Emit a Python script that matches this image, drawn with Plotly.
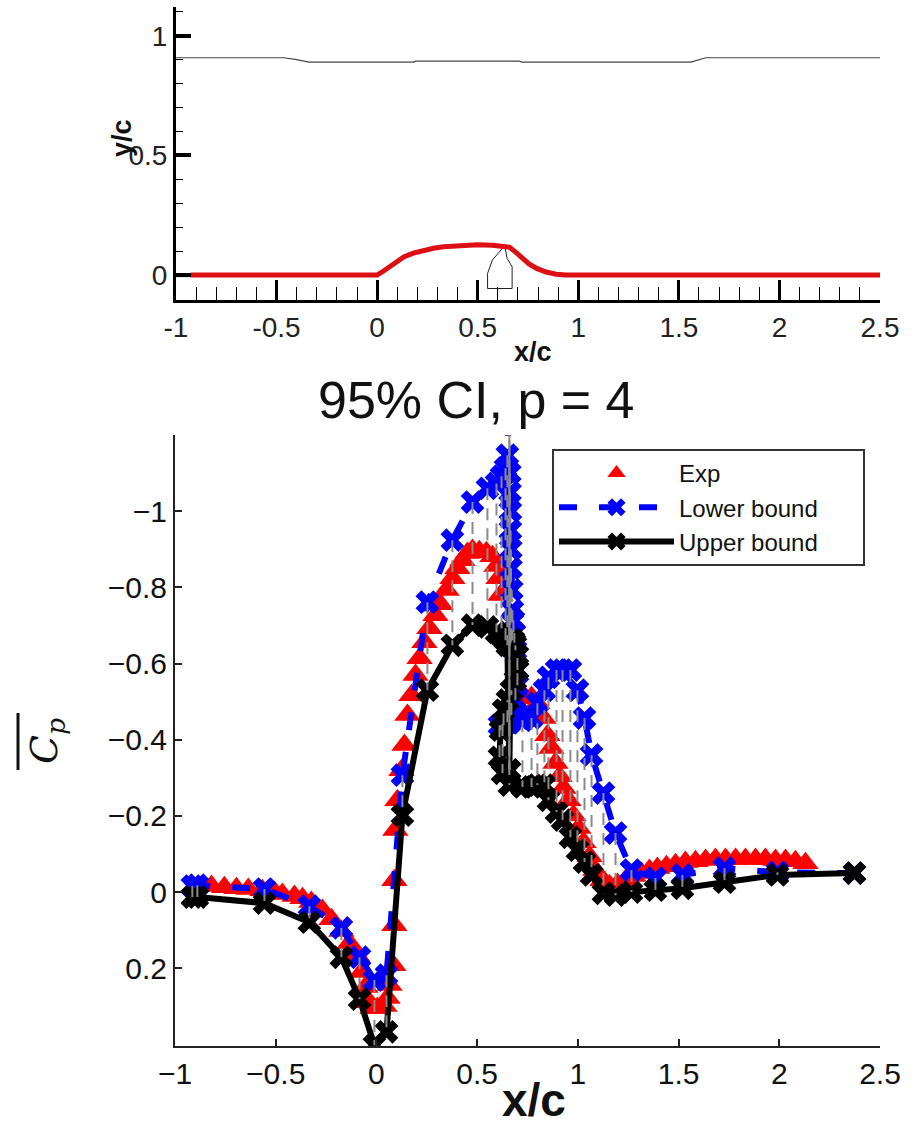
import plotly.graph_objects as go

W, H = 916, 1126
NARROW = "Liberation Sans Narrow, Liberation Sans, Arial"
SANS = "Liberation Sans, Arial"

# ---- upper panel: geometry
wall_x = [-1, -0.927, 0.0, 0.03, 0.06, 0.095, 0.134, 0.18, 0.232, 0.28, 0.33, 0.38, 0.427, 0.5, 0.573, 0.62, 0.659, 0.69, 0.72, 0.755, 0.793, 0.84, 0.89, 0.94, 2.5]
wall_y = [0, 0, 0, 0.016, 0.035, 0.056, 0.077, 0.092, 0.104, 0.112, 0.118, 0.122, 0.125, 0.127, 0.125, 0.122, 0.116, 0.095, 0.07, 0.047, 0.028, 0.013, 0.004, 0, 0]
inlet_x = [-1, -0.927]
inlet_y = [0, 0]
top_x = [-1, -0.463, -0.4, -0.34, 0.183, 0.19, 0.707, 0.72, 1.56, 1.634, 2.5]
top_y = [0.908, 0.908, 0.9, 0.89, 0.89, 0.894, 0.894, 0.89, 0.89, 0.908, 0.908]
cavity_x = [0.549, 0.549, 0.573, 0.622, 0.637, 0.646, 0.671, 0.671, 0.549]
cavity_y = [-0.056, 0.007, 0.063, 0.111, 0.111, 0.07, 0.035, -0.056, -0.056]

# ---- lower panel: pressure coefficient
exp_x = [-0.819, -0.755, -0.695, -0.636, -0.566, -0.506, -0.467, -0.407, -0.367, -0.323, -0.268, -0.223, -0.174,
         -0.134, -0.094, -0.074, -0.055, -0.035, -0.020, 0.005, 0.040, 0.055, 0.065, 0.084, 0.089, 0.089, 0.094,
         0.104, 0.124, 0.139, 0.154, 0.174, 0.194, 0.214, 0.238, 0.263, 0.293, 0.318, 0.348, 0.377, 0.402, 0.427,
         0.452, 0.477, 0.511, 0.546, 0.576, 0.596, 0.606, 0.616, 0.626, 0.660, 0.710, 0.740, 0.770, 0.799, 0.829,
         0.849, 0.869, 0.889, 0.909, 0.928, 0.953, 0.978, 1.003, 1.028, 1.058, 1.087, 1.122, 1.157, 1.197, 1.236,
         1.276, 1.316, 1.355, 1.395, 1.440, 1.485, 1.534, 1.584, 1.634, 1.683, 1.733, 1.783, 1.832, 1.882, 1.931,
         1.981, 2.031, 2.080, 2.130]
exp_y = [-0.016, -0.013, -0.010, -0.008, -0.005, 0.0, 0.005, 0.010, 0.016, 0.026, 0.047, 0.071, 0.102,
         0.134, 0.168, 0.210, 0.249, 0.289, 0.304, 0.304, 0.299, 0.278, 0.244, 0.192, 0.087, -0.031, -0.163,
         -0.241, -0.320, -0.386, -0.465, -0.517, -0.570, -0.614, -0.656, -0.693, -0.727, -0.756, -0.793, -0.824, -0.850, -0.871,
         -0.890, -0.898, -0.895, -0.892, -0.882, -0.856, -0.824, -0.780, -0.451, -0.465, -0.483, -0.509, -0.512, -0.496, -0.457,
         -0.412, -0.378, -0.339, -0.304, -0.273, -0.241, -0.202, -0.168, -0.131, -0.094, -0.058, -0.031, -0.018, -0.021, -0.031,
         -0.042, -0.050, -0.058, -0.063, -0.068, -0.073, -0.079, -0.081, -0.084, -0.087, -0.087, -0.087, -0.087, -0.087, -0.087,
         -0.084, -0.084, -0.081, -0.076]

bound_x = [-0.914, -0.889, -0.556, -0.333, -0.174, -0.084, -0.010, 0.050, 0.129, 0.253, 0.377, 0.477, 0.551,
           0.596, 0.621, 0.641, 0.650, 0.660, 0.660, 0.660, 0.662, 0.663, 0.665, 0.665, 0.667, 0.668, 0.672, 0.675, 0.680, 0.685, 0.690, 0.700, 0.700, 0.690, 0.670, 0.650, 0.631, 0.616,
           0.611, 0.626, 0.660, 0.725, 0.770, 0.799, 0.834, 0.854, 0.894, 0.924, 0.963, 0.998, 1.033, 1.068, 1.127,
           1.187, 1.266, 1.385, 1.519, 1.728, 1.991, 2.373]
upper_y = [0.013, 0.013, 0.029, 0.079, 0.171, 0.281, 0.402, 0.367, -0.202, -0.530, -0.648, -0.701, -0.696,
           -0.682, -0.672, -0.661, -0.648, -0.320, -0.320, -0.320, -0.648, -0.650, -0.652, -0.655, -0.658, -0.660, -0.661, -0.661, -0.661, -0.655, -0.648, -0.622, -0.583, -0.556, -0.530, -0.504, -0.478, -0.425,
           -0.354, -0.312, -0.281, -0.276, -0.276, -0.281, -0.281, -0.241, -0.210, -0.189, -0.144, -0.110, -0.079, -0.045, 0.003,
           0.008, 0.0, -0.005, -0.010, -0.026, -0.045, -0.050]
lower_y = [-0.016, -0.018, -0.008, 0.037, 0.094, 0.171, 0.231, 0.218, -0.307, -0.761, -0.924, -1.024, -1.060,
           -1.073, -1.092, -1.113, -1.147, -1.239, -1.260, -1.281, -1.100, -1.050, -1.000, -0.950, -0.900, -0.850, -0.793, -0.740, -0.714, -0.680, -0.635, -0.583, -0.543, -0.504, -0.465, -0.446, -0.438,
           -0.438, -0.438, -0.441, -0.444, -0.451, -0.457, -0.496, -0.530, -0.564, -0.583, -0.583, -0.583, -0.530, -0.457, -0.360, -0.260,
           -0.155, -0.058, -0.037, -0.045, -0.063, -0.052, -0.050]

x_ticks = [-1, -0.5, 0, 0.5, 1, 1.5, 2, 2.5]
x_labels_top = ["-1", "-0.5", "0", "0.5", "1", "1.5", "2", "2.5"]
x_labels_bottom = ["−1", "−0.5", "0", "0.5", "1", "1.5", "2", "2.5"]
y_ticks_top = [0, 0.5, 1]
y_labels_top = ["0", "0.5", "1"]
y_ticks_bottom = [-1, -0.8, -0.6, -0.4, -0.2, 0, 0.2]
y_labels_bottom = ["−1", "−0.8", "−0.6", "−0.4", "−0.2", "0", "0.2"]

gap_x, gap_y = [], []
for bx, lo, up in zip(bound_x, lower_y, upper_y):
    gap_x += [bx, bx, None]
    gap_y += [lo, up, None]

fig = go.Figure()

# upper panel
fig.add_trace(go.Scatter(x=top_x, y=top_y, mode="lines", line=dict(color="#444444", width=1.2),
                         showlegend=False, xaxis="x", yaxis="y"))
fig.add_trace(go.Scatter(x=cavity_x, y=cavity_y, mode="lines", line=dict(color="#222222", width=1),
                         showlegend=False, xaxis="x", yaxis="y"))
fig.add_trace(go.Scatter(x=inlet_x, y=inlet_y, mode="lines", line=dict(color="black", width=4),
                         showlegend=False, xaxis="x", yaxis="y"))
fig.add_trace(go.Scatter(x=wall_x[1:], y=wall_y[1:], mode="lines", line=dict(color="#dd0f14", width=5),
                         showlegend=False, xaxis="x", yaxis="y"))

# lower panel
fig.add_trace(go.Scatter(x=exp_x, y=exp_y, mode="markers", name="Exp",
                         marker=dict(symbol="triangle-up", size=23, color="#ff0000"),
                         xaxis="x2", yaxis="y2"))
fig.add_trace(go.Scatter(x=bound_x, y=lower_y, mode="lines+markers", name="Lower bound",
                         line=dict(color="#0000ff", width=6, dash="18px,22px"),
                         marker=dict(symbol="x", size=21, color="#0000ff"),
                         xaxis="x2", yaxis="y2"))
fig.add_trace(go.Scatter(x=bound_x, y=upper_y, mode="lines+markers", name="Upper bound" + "\u00a0" * 6,
                         line=dict(color="black", width=6),
                         marker=dict(symbol="x", size=21, color="black"),
                         xaxis="x2", yaxis="y2"))
fig.add_trace(go.Scatter(x=gap_x, y=gap_y, mode="lines", line=dict(color="#8a8a8a", width=2, dash="12px,8px"),
                         showlegend=False, xaxis="x2", yaxis="y2"))


def label(text, px, py, family, size, angle=0):
    return dict(text=text, x=px / W, y=1 - py / H, xref="paper", yref="paper", showarrow=False,
                xanchor="center", yanchor="middle", textangle=angle,
                font=dict(family=family, size=size, color="#111111"))


fig.update_layout(
    width=W, height=H, autosize=False, margin=dict(l=0, r=0, t=0, b=0, autoexpand=False),
    paper_bgcolor="white", plot_bgcolor="white", showlegend=True,
    legend=dict(x=552 / W, y=1 - 449 / H, xanchor="left", yanchor="top", bgcolor="white",
                bordercolor="#333333", borderwidth=2, itemwidth=115,
                font=dict(family=SANS, size=24, color="#111111")),
    xaxis=dict(domain=[176 / W, 880 / W], range=[-1, 2.5], anchor="y", showgrid=False, zeroline=False,
               showline=True, linecolor="black", linewidth=3, ticks="inside", ticklen=20, tickwidth=3,
               tickcolor="black", tickmode="array", tickvals=x_ticks, ticktext=x_labels_top,
               tickfont=dict(family=NARROW, size=28, color="#222222"),
               minor=dict(ticks="inside", ticklen=13, tickwidth=1, tickcolor="black", dtick=0.1, tick0=0)),
    yaxis=dict(domain=[1 - 300 / H, 1 - 7 / H], range=[-0.104, 1.12], anchor="x", showgrid=False, zeroline=False,
               showline=True, linecolor="black", linewidth=3, ticks="inside", ticklen=15, tickwidth=4,
               tickcolor="black", tickmode="array", tickvals=y_ticks_top, ticktext=y_labels_top,
               tickfont=dict(family=NARROW, size=28, color="#222222"),
               minor=dict(ticks="inside", ticklen=7, tickwidth=1, tickcolor="black", dtick=0.1, tick0=0)),
    xaxis2=dict(domain=[175 / W, 880 / W], range=[-1, 2.5], anchor="y2", showgrid=False, zeroline=False,
                showline=True, linecolor="#222222", linewidth=2, ticks="inside", ticklen=7, tickwidth=1.5,
                tickcolor="#222222", tickmode="array", tickvals=x_ticks, ticktext=x_labels_bottom,
                tickfont=dict(family=SANS, size=30, color="#111111")),
    yaxis2=dict(domain=[1 - 1046 / H, 1 - 435 / H], range=[0.404, -1.2], anchor="x2", showgrid=False, zeroline=False,
                showline=True, linecolor="#222222", linewidth=2, ticks="inside", ticklen=7, tickwidth=1.5,
                tickcolor="#222222", tickmode="array", tickvals=y_ticks_bottom, ticktext=y_labels_bottom,
                tickfont=dict(family=SANS, size=30, color="#111111")),
    annotations=[
        label("<b>x/c</b>", 533, 352, NARROW, 27),
        label("<b>y/c</b>", 122, 138, NARROW, 27, -90),
        label("95% CI, p = 4", 476, 400, SANS, 52),
        label("<b>x/c</b>", 534, 1100, SANS, 46),
        label("<i>C</i><sub><i>p</i></sub>", 46, 741, "DejaVu Serif, Liberation Serif", 38, -90),
    ],
    shapes=[dict(type="line", xref="paper", yref="paper", x0=18 / W, x1=18 / W, y0=1 - 713 / H, y1=1 - 770 / H,
                 line=dict(color="#111111", width=3))],
)

fig.write_html("out.html", post_script="document.body.style.margin='0';", config={"displayModeBar": False})
